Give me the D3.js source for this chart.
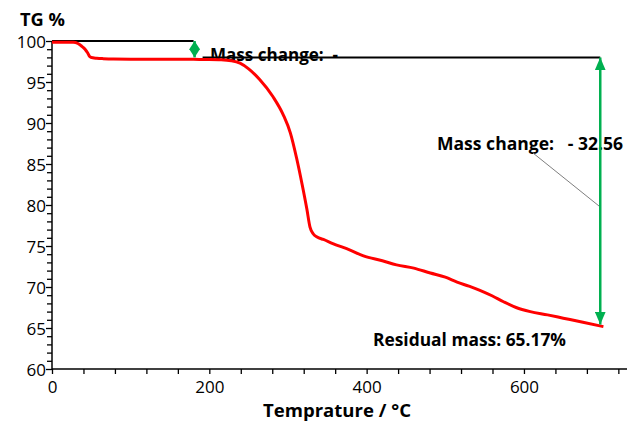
<!DOCTYPE html>
<html>
<head>
<meta charset="utf-8">
<script src="https://cdn.jsdelivr.net/npm/d3@7"></script>
<style>
  body { margin: 0; background: #fff; }
  svg text { font-family: "Open Sans", "Liberation Sans", sans-serif; fill: #000; white-space: pre; }
</style>
</head>
<body>
<div id="chart"></div>
<script>
// TG curve
var temperature = [0, 15, 27, 33, 38, 42, 45, 48, 52, 57, 65, 78, 100, 130, 154, 180, 200, 215, 228, 239, 250, 264, 281, 294, 303, 311, 318, 324, 328, 332, 337, 345, 357, 379, 396, 420, 438, 460, 481, 500, 515, 530, 544, 560, 574, 590, 608, 630, 650, 675, 701];
var tg = [99.85, 99.85, 99.85, 99.7, 99.35, 99.0, 98.6, 98.1, 97.95, 97.9, 97.85, 97.8, 97.78, 97.78, 97.78, 97.76, 97.75, 97.72, 97.6, 97.3, 96.6, 95.3, 93.2, 91.0, 88.8, 85.7, 82.5, 79.5, 77.3, 76.5, 76.1, 75.8, 75.3, 74.5, 73.8, 73.2, 72.7, 72.3, 71.7, 71.2, 70.6, 70.1, 69.6, 68.9, 68.2, 67.5, 67.0, 66.6, 66.2, 65.7, 65.17];

var xTickLabels = [0, 200, 400, 600];
var yTickLabels = [60, 65, 70, 75, 80, 85, 90, 95, 100];

var step1From = 0, step1To = 180, step1Level = 100, step1Ref = 98.0;
var step2T = 697, step2Top = 98.0, step2Bottom = 65.17;
var massChange1 = "Mass change:  -";
var massChange2 = "Mass change:   - 32.56";
var residual = "Residual mass: 65.17%";

var width = 627, height = 423;
var green = "#00b050";

var svg = d3.select("#chart").append("svg")
    .attr("width", width)
    .attr("height", height);

var x = d3.scaleLinear().domain([0, 731]).range([52, 627]);
var y = d3.scaleLinear().domain([60, 100]).range([369, 41]);

// markers for the green double arrows
var defs = svg.append("defs");
function arrowMarker(id, w, h){
    defs.append("marker")
        .attr("id", id)
        .attr("markerUnits", "userSpaceOnUse")
        .attr("markerWidth", h)
        .attr("markerHeight", w)
        .attr("refX", h)
        .attr("refY", w / 2)
        .attr("orient", "auto-start-reverse")
        .append("path")
        .attr("d", "M0,0L" + h + "," + (w / 2) + "L0," + w + "Z")
        .attr("fill", green);
}
arrowMarker("arrowBig", 11, 13);
arrowMarker("arrowSmall", 11, 8.5);

// axes
var xAxis = d3.axisBottom(x)
    .tickValues(d3.range(0, 721, 40))
    .tickSize(5)
    .tickFormat(function(d){ return xTickLabels.indexOf(d) >= 0 ? d : ""; });

var gx = svg.append("g")
    .attr("transform", "translate(0," + y(60) + ")")
    .call(xAxis);
gx.select(".domain").attr("d", "M" + x(0) + ",0H" + width).attr("stroke-width", 1.5);
gx.selectAll(".tick line").attr("stroke-width", 1.3);
gx.selectAll(".tick text").attr("font-size", 17).attr("dy", "0.95em");

var yAxis = d3.axisLeft(y)
    .tickValues(d3.range(60, 101, 1))
    .tickSize(5)
    .tickFormat(function(d){ return yTickLabels.indexOf(d) >= 0 ? d : ""; });

var gy = svg.append("g")
    .attr("transform", "translate(" + x(0) + ",0)")
    .call(yAxis);
gy.select(".domain").attr("d", "M0," + y(60) + "V" + y(100)).attr("stroke-width", 1.5);
gy.selectAll(".tick line").attr("stroke-width", 1.3)
    .attr("x2", function(d){ return d % 5 === 0 ? -6 : -5; });
gy.selectAll(".tick text").attr("font-size", 17).attr("x", -6).attr("dy", "0.36em");

svg.selectAll(".tick text").attr("font-family", "'Open Sans', sans-serif").attr("fill", "#000");

// axis titles
svg.append("text")
    .attr("x", 20).attr("y", 26)
    .attr("font-size", 17).attr("font-weight", "bold")
    .attr("textLength", 45).attr("lengthAdjust", "spacingAndGlyphs")
    .text("TG %");

svg.append("text")
    .attr("x", 337).attr("y", 417)
    .attr("text-anchor", "middle")
    .attr("font-size", 18).attr("font-weight", "bold")
    .attr("textLength", 148).attr("lengthAdjust", "spacingAndGlyphs")
    .text("Temprature / °C");

// annotation texts
svg.append("text")
    .attr("x", 210).attr("y", 61)
    .attr("font-size", 17).attr("font-weight", "bold")
    .attr("textLength", 128).attr("lengthAdjust", "spacingAndGlyphs")
    .text(massChange1);

svg.append("text")
    .attr("x", 437).attr("y", 150)
    .attr("font-size", 17).attr("font-weight", "bold")
    .attr("textLength", 186).attr("lengthAdjust", "spacingAndGlyphs")
    .text(massChange2);

svg.append("text")
    .attr("x", 373).attr("y", 346)
    .attr("font-size", 17).attr("font-weight", "bold")
    .attr("textLength", 193).attr("lengthAdjust", "spacingAndGlyphs")
    .text(residual);

// reference lines
svg.append("line")
    .attr("x1", x(step1From)).attr("x2", x(step1To))
    .attr("y1", y(step1Level)).attr("y2", y(step1Level))
    .attr("stroke", "#000").attr("stroke-width", 2);

svg.append("line")
    .attr("x1", x(step1To) + 9).attr("x2", x(step2T))
    .attr("y1", y(step1Ref)).attr("y2", y(step1Ref))
    .attr("stroke", "#000").attr("stroke-width", 2);

// leader line
svg.append("line")
    .attr("x1", 533).attr("y1", 153)
    .attr("x2", x(step2T)).attr("y2", 207)
    .attr("stroke", "#7f7f7f").attr("stroke-width", 1);

// TG curve
var line = d3.line()
    .x(function(d, i){ return x(temperature[i]); })
    .y(function(d){ return y(d); })
    .curve(d3.curveMonotoneX);

svg.append("path")
    .datum(tg)
    .attr("d", line)
    .attr("fill", "none")
    .attr("stroke", "#ff0000")
    .attr("stroke-width", 3)
    .attr("stroke-linejoin", "round");

// green arrows
svg.append("line")
    .attr("x1", x(step1To) + 1).attr("x2", x(step1To) + 1)
    .attr("y1", y(step1Level)).attr("y2", y(step1Ref))
    .attr("stroke", green).attr("stroke-width", 2.5)
    .attr("marker-start", "url(#arrowSmall)")
    .attr("marker-end", "url(#arrowSmall)");

svg.append("line")
    .attr("x1", x(step2T)).attr("x2", x(step2T))
    .attr("y1", y(step2Top)).attr("y2", y(step2Bottom) - 2)
    .attr("stroke", green).attr("stroke-width", 2.5)
    .attr("marker-start", "url(#arrowBig)")
    .attr("marker-end", "url(#arrowBig)");
</script>
</body>
</html>
